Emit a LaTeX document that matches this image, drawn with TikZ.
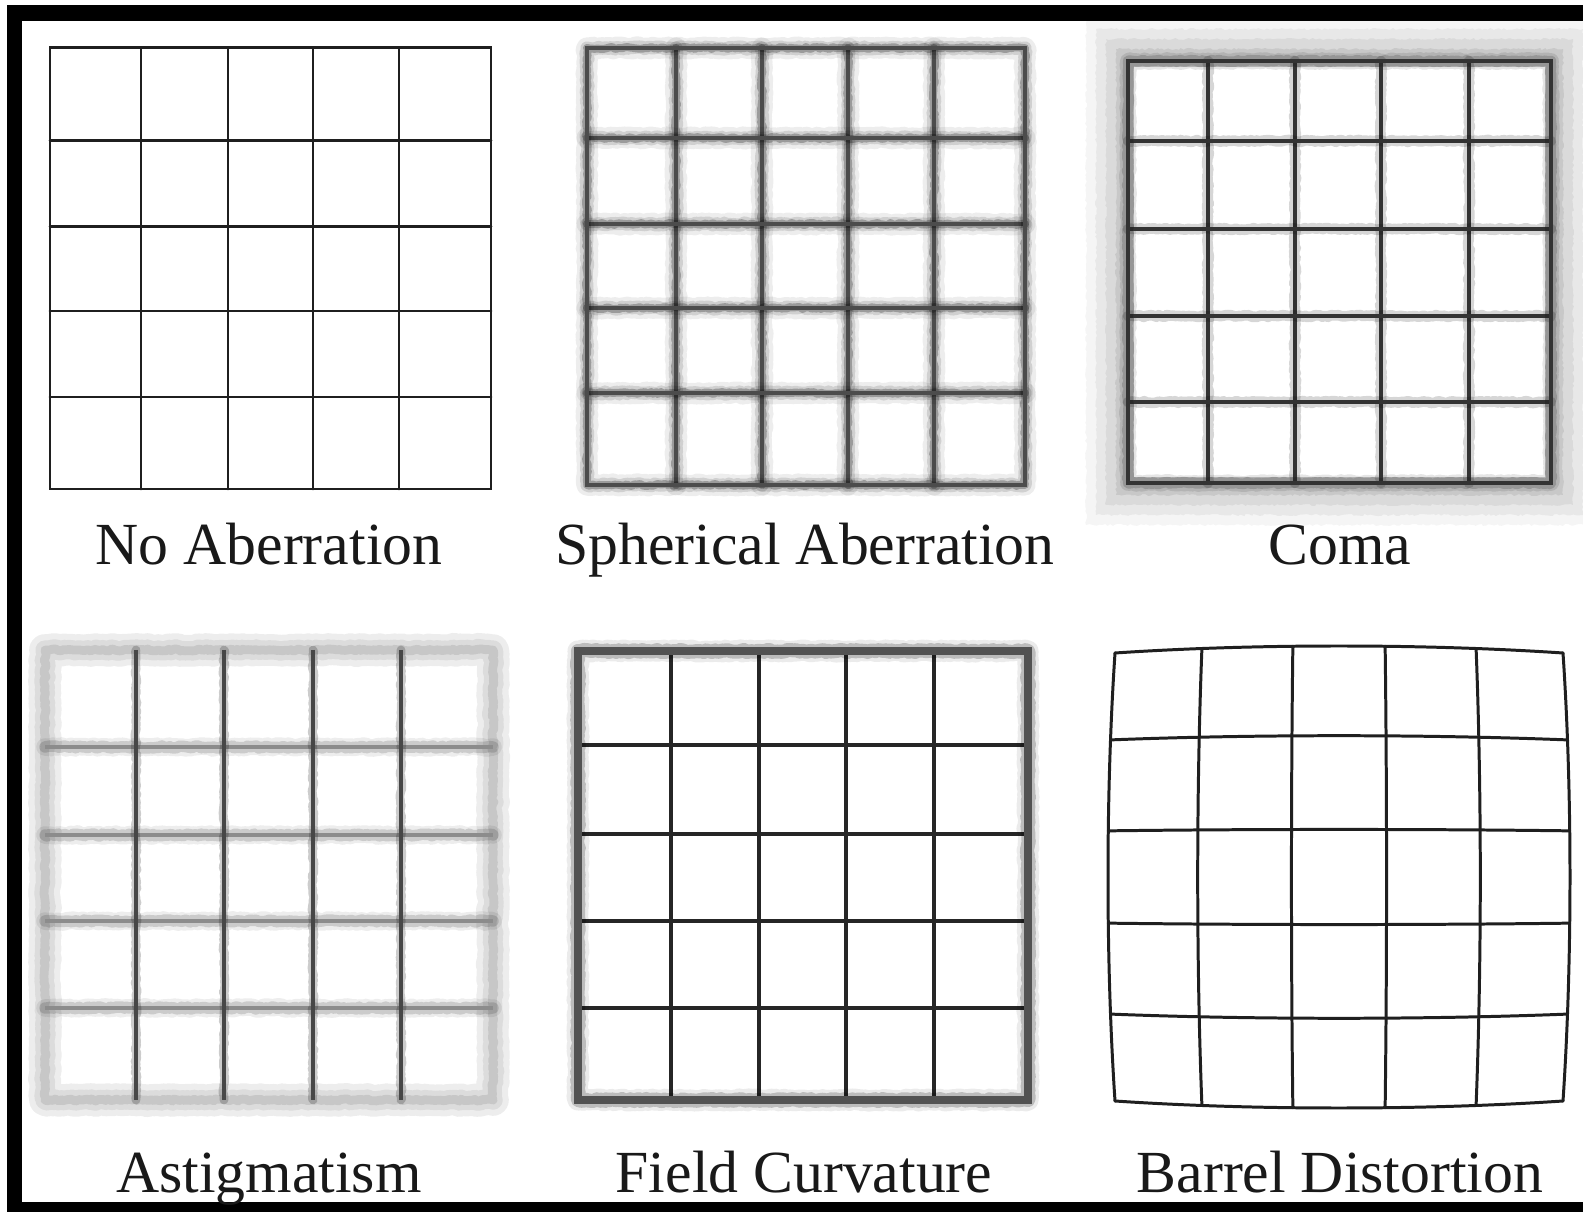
\documentclass[tikz,border=0pt]{standalone}
\usepackage{fontspec}
\setmainfont{Liberation Serif}
\usetikzlibrary{decorations.pathmorphing}

\tikzset{
  grain/.style={decorate, line join=round, line cap=round,
    decoration={random steps, segment length=1.5pt, amplitude=.6pt}},
  plain/.style={line width=1.7pt, black!88, line cap=round},
  spher/.style={line width=2.8pt, black!70,
    preaction={draw, black, opacity=.07, line width=12pt, grain},
    preaction={draw, black, opacity=.12, line width=7.5pt, grain},
    preaction={draw, black, opacity=.25, line width=4.5pt, grain}},
  comaline/.style={line width=2.2pt, black!80,
    preaction={draw, black, opacity=.16, line width=6pt, grain}},
  astframe/.style={line width=5pt, black!22, grain,
    preaction={draw, black, opacity=.07, line width=18pt, grain},
    preaction={draw, black, opacity=.07, line width=11pt, grain}},
  astvert/.style={line width=2pt, black!72,
    preaction={draw, black, opacity=.2, line width=5pt, grain}},
  asthor/.style={line width=2.6pt, black!45,
    preaction={draw, black, opacity=.07, line width=10pt, grain},
    preaction={draw, black, opacity=.14, line width=6.5pt, grain}},
  fcframe/.style={line width=4pt, black!68,
    preaction={draw, black, opacity=.08, line width=12pt, grain},
    preaction={draw, black, opacity=.2, line width=8pt, grain}},
  fcline/.style={line width=2pt, black!85},
  lbl/.style={anchor=base, inner sep=0pt, text=black!90,
    font=\fontsize{34}{40}\selectfont}
}

\begin{document}
\begin{tikzpicture}[x=0.02cm, y=-0.02cm]
  \useasboundingbox (0,0) rectangle (1583,1212);
  \fill[white] (0,0) rectangle (1583,1212);

  % outer black frame (cut at right and bottom)
  \fill[black] (7,5) rectangle (22,1212);
  \fill[black] (7,5) rectangle (1583,21);
  \fill[black] (7,1202) rectangle (1583,1212);

  % no aberration
  \draw[plain] (50,48) rectangle (491,489);
  \foreach \x in {141,228,313,399}
    \draw[plain] (\x,48) -- (\x,489);
  \foreach \y in {141,227,311,397}
    \draw[plain] (50,\y) -- (491,\y);

  % spherical aberration
  \foreach \x in {676,762,848,934}
    \draw[spher] (\x,48) -- (\x,485);
  \foreach \y in {138,224,308,393}
    \draw[spher] (587,\y) -- (1025,\y);
  \draw[spher] (587,48) rectangle (1025,485);

  % coma
  \foreach \d/\o in {42/.04,32/.05,22/.06,12/.08}
    \fill[black, opacity=\o, grain] (1128-\d,61-\d) rectangle (1551+\d,483+\d);
  \fill[white] (1134,67) rectangle (1545,477);
  \draw[black, opacity=.1, line width=9pt, grain] (1128,61) rectangle (1551,483);
  \foreach \x in {1208,1295,1381,1469}
    \draw[comaline] (\x,61) -- (\x,483);
  \foreach \y in {141,229,316,402}
    \draw[comaline] (1128,\y) -- (1551,\y);
  \draw[comaline] (1128,61) rectangle (1551,483);

  % astigmatism
  \draw[astframe] (45,650) rectangle (493,1100);
  \foreach \y in {747,835,921,1008}
    \draw[asthor] (45,\y) -- (493,\y);
  \foreach \x in {136,224,313,401}
    \draw[astvert] (\x,650) -- (\x,1100);

  % field curvature
  \foreach \x in {671,759,846,934}
    \draw[fcline] (\x,651) -- (\x,1100);
  \foreach \y in {745,834,921,1008}
    \draw[fcline] (578,\y) -- (1028,\y);
  \draw[fcframe] (578,651) rectangle (1028,1100);

  % barrel distortion
  \foreach \u in {-1,-0.6,-0.2,0.2,0.6,1} {
    \draw[plain] plot[domain=-1:1, samples=25, smooth]
      ({1339+238*(\u)*(1-0.0294*((\u)*(\u)+\x*\x))},
       {877+238*\x*(1-0.0294*((\u)*(\u)+\x*\x))});
    \draw[plain] plot[domain=-1:1, samples=25, smooth]
      ({1339+238*\x*(1-0.0294*((\u)*(\u)+\x*\x))},
       {877+238*(\u)*(1-0.0294*((\u)*(\u)+\x*\x))});
  }

  % labels
  \node[lbl] (lNone) at (269,565) {No Aberration};
  \node[lbl] (lSpher) at (805,565) {Spherical Aberration};
  \node[lbl] (lComa) at (1340,565) {Coma};
  \node[lbl] (lAstig) at (269,1192) {Astigmatism};
  \node[lbl] (lField) at (804,1192) {Field Curvature};
  \node[lbl] (lBarrel) at (1340,1192) {Barrel Distortion};
\end{tikzpicture}
\end{document}
